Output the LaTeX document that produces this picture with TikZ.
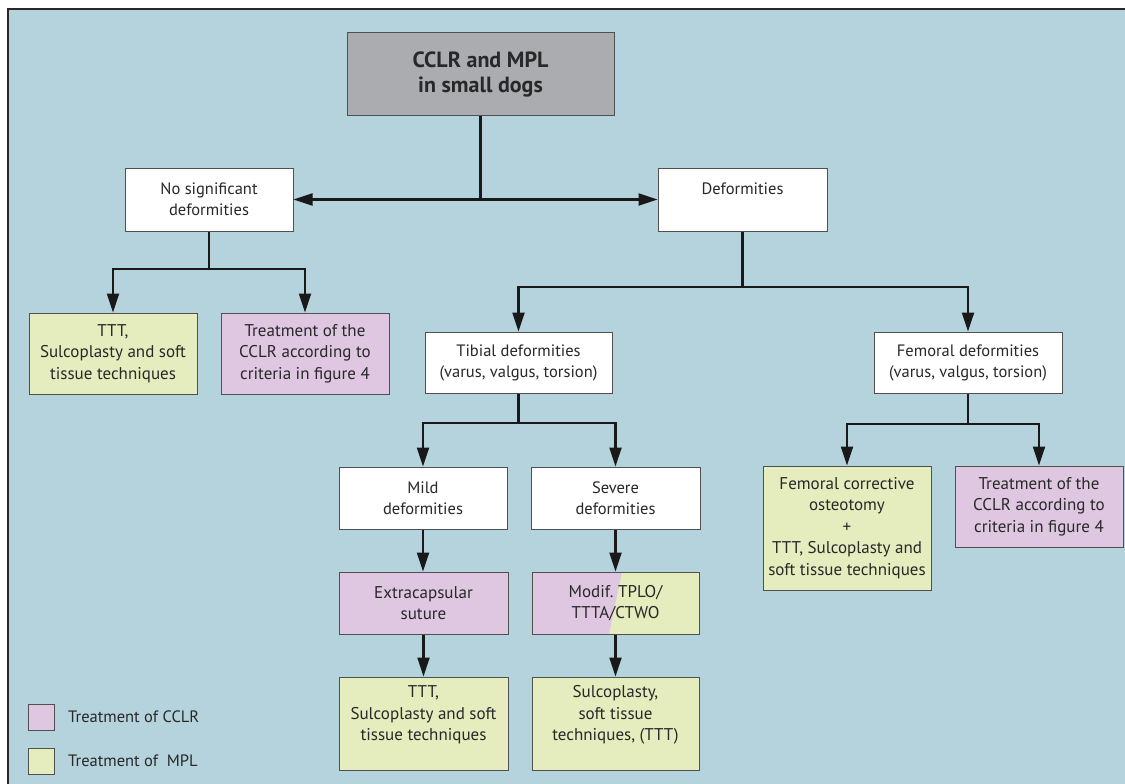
\documentclass[tikz,border=0pt]{standalone}
\usepackage{fontspec}
\setmainfont{PT Sans}
\usetikzlibrary{arrows.meta}
\frenchspacing
\definecolor{bgblue}{RGB}{180,211,221}
\definecolor{boxgray}{RGB}{171,172,175}
\definecolor{cclrpink}{RGB}{223,199,225}
\definecolor{mplgreen}{RGB}{229,236,190}
\definecolor{boxline}{RGB}{80,80,80}
\definecolor{textcol}{RGB}{40,40,40}
\definecolor{linecol}{RGB}{25,25,25}
\definecolor{framecol}{RGB}{40,40,40}
\begin{document}
\begin{tikzpicture}[x=1pt,y=-1pt,
  box/.style={draw=boxline, line width=1pt, align=center, inner sep=0pt, text=textcol},
  wbox/.style={box, fill=white, font=\fontsize{16.5}{21}\selectfont},
  gbox/.style={box, fill=mplgreen, font=\fontsize{17}{21.5}\selectfont},
  pbox/.style={box, fill=cclrpink, font=\fontsize{17}{21.5}\selectfont},
  txt/.style={align=center, inner sep=0pt, text=textcol, font=\fontsize{17}{21.5}\selectfont},
  conn/.style={draw=linecol, line width=2.3pt},
  arr/.style={conn, -{Triangle[length=19pt,width=12pt]}},
  darr/.style={conn, {Triangle[length=19pt,width=12pt]}-{Triangle[length=19pt,width=12pt]}}
]
\useasboundingbox (0,0) rectangle (1125,784);
\fill[white] (0,0) rectangle (1125,784);
\fill[bgblue] (8,9) rectangle (1125,784);
\draw[framecol, line width=1.5pt] (8,784) -- (8,9) -- (1125,9);

% boxes
\node[box, fill=boxgray, minimum width=267pt, minimum height=82pt,
      font=\bfseries\fontsize{22}{25}\selectfont] (top) at (480.5,74) {CCLR and MPL\\in small dogs};
\node[wbox, minimum width=168pt, minimum height=63pt] (nosig) at (209,199.5) {No significant\\deformities};
\node[wbox, minimum width=169pt, minimum height=63pt] (deform) at (742.5,199.5) {Deformities\\\mbox{}};
\node[gbox, minimum width=168pt, minimum height=81pt] (ttta) at (113,353.5) {TTT,\\Sulcoplasty and soft\\tissue techniques};
\node[pbox, minimum width=168pt, minimum height=81pt] (cclra) at (305,353.5) {Treatment of the\\CCLR according to\\criteria in figure 4};
\node[wbox, minimum width=187pt, minimum height=61pt] (tibial) at (518.5,362.5) {Tibial deformities\\(varus, valgus, torsion)};
\node[wbox, minimum width=188pt, minimum height=61pt] (femoral) at (968,362.5) {Femoral deformities\\(varus, valgus, torsion)};
\node[wbox, minimum width=168pt, minimum height=62pt] (mild) at (423,498) {Mild\\deformities};
\node[wbox, minimum width=169pt, minimum height=62pt] (severe) at (615.5,498) {Severe\\deformities};
\node[pbox, minimum width=169pt, minimum height=62pt] (extra) at (423.5,603) {Extracapsular\\suture};
\node[gbox, minimum width=167pt, minimum height=62pt,
      path picture={\fill[cclrpink] (path picture bounding box.north west) -- ++(90,0) -- ++(-13,62) -- ++(-77,0) -- cycle;}] (modif) at (615.5,603) {Modif.\ TPLO/\\TTTA/CTWO};
\node[gbox, minimum width=169pt, minimum height=93pt] (tttb) at (423.5,723.5) {};
\node[txt] (tttbt) at (423.5,715) {TTT,\\Sulcoplasty and soft\\tissue techniques};
\node[gbox, minimum width=167pt, minimum height=93pt] (sulco) at (615.5,723.5) {};
\node[txt] (sulcot) at (615.5,715) {Sulcoplasty,\\soft tissue\\techniques, (TTT)};
\node[gbox, minimum width=168pt, minimum height=124pt] (femcorr) at (847,528) {Femoral corrective\\osteotomy\\+\\TTT, Sulcoplasty and\\soft tissue techniques};
\node[pbox, minimum width=168pt, minimum height=81pt] (cclrb) at (1039,506.5) {Treatment of the\\CCLR according to\\criteria in figure 4};

% junctions
\coordinate (j0) at (480.5,199.5);
\coordinate (j1) at (209,269);
\coordinate (j2) at (742.5,287);
\coordinate (j3) at (518.5,423);
\coordinate (j4) at (968,424);

% connectors
\draw[conn] (top.south) -- (j0);
\draw[darr] (nosig.east) -- (deform.west);
\draw[conn] (nosig.south) -- (j1);
\draw[arr] (j1) -| (ttta.north);
\draw[arr] (j1) -| (cclra.north);
\draw[conn] (deform.south) -- (j2);
\draw[arr] (j2) -| (tibial.north);
\draw[arr] (j2) -| (femoral.north);
\draw[conn] (tibial.south) -- (j3);
\draw[arr] (j3) -| (mild.north);
\draw[arr] (j3) -| (severe.north);
\draw[conn] (femoral.south) -- (j4);
\draw[arr] (j4) -| (femcorr.north);
\draw[arr] (j4) -| (cclrb.north);
\draw[arr] (mild.south) -- (mild.south |- extra.north);
\draw[arr] (extra.south) -- (extra.south |- tttb.north);
\draw[arr] (severe.south) -- (severe.south |- modif.north);
\draw[arr] (modif.south) -- (modif.south |- sulco.north);

% legend
\node[draw=boxline, line width=1pt, fill=cclrpink, minimum width=26pt, minimum height=26pt, inner sep=0pt] (legp) at (41,717) {};
\node[anchor=west, inner sep=0pt, text=textcol, font=\fontsize{16.5}{20}\selectfont] (legpt) at (68,717) {Treatment of CCLR};
\node[draw=boxline, line width=1pt, fill=mplgreen, minimum width=26pt, minimum height=26pt, inner sep=0pt] (legg) at (41,761) {};
\node[anchor=west, inner sep=0pt, text=textcol, font=\fontsize{16.5}{20}\selectfont] (leggt) at (68,761) {Treatment of\ \ MPL};
\end{tikzpicture}
\end{document}
